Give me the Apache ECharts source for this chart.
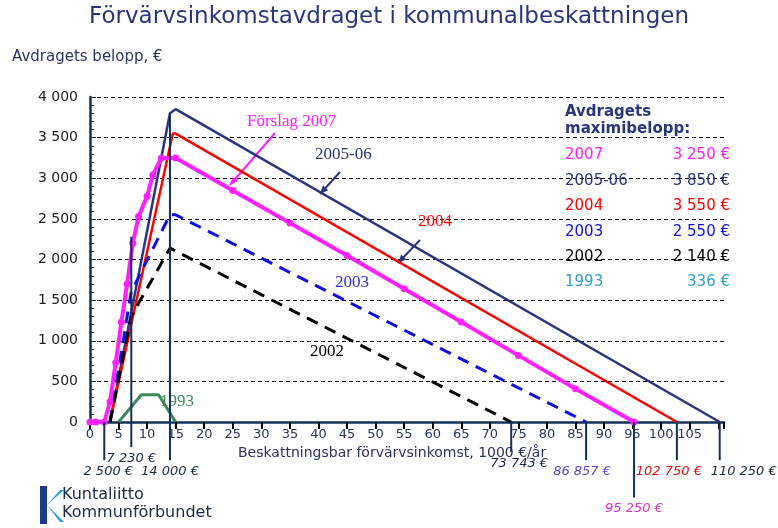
<!DOCTYPE html>
<html><head><meta charset="utf-8">
<script src="https://cdn.jsdelivr.net/npm/echarts@6/dist/echarts.min.js"></script>
<style>html,body{margin:0;background:#fff}#c{width:778px;height:528px}</style></head>
<body><div id="c"></div>
<script>
const s2007 = [[0,0],[1,0],[2.5,0],[3.5,250],[4.5,730],[5.5,1230],[6.5,1700],[7.5,2200],[8.5,2530],[10,2780],[11,3040],[12.5,3250],[15,3250],[25,2850],[35,2450],[45,2050],[55,1640],[65,1230],[75,820],[85,410],[95.25,0]];
const s2005 = [[3.5,0],[14,3800],[15,3850],[110.25,0]];
const s2004 = [[3.5,0],[14.5,3550],[15,3550],[102.75,0]];
const s2003 = [[3.5,0],[7.2,1600],[14,2550],[15,2550],[86.857,0]];
const s2002 = [[3.5,0],[7.2,1300],[14,2140],[73.743,0]];
const s1993 = [[5,0],[9,336],[12,336],[15,0]];
const markers = [
  {x:2.5, top:0, bottom:-470, label:'2 500 €', color:'#1a2a4a'},
  {x:7.23, top:2280, bottom:-310, label:'7 230 €', color:'#1a2a4a'},
  {x:14, top:3800, bottom:-470, label:'14 000 €', color:'#1a2a4a'},
  {x:73.743, top:0, bottom:-370, label:'73 743 €', color:'#1a2a4a'},
  {x:86.857, top:0, bottom:-470, label:'86 857 €', color:'#5a4ad0'},
  {x:95.25, top:0, bottom:-930, label:'95 250 €', color:'#e030d0'},
  {x:102.75, top:0, bottom:-470, label:'102 750 €', color:'#e01010'},
  {x:110.25, top:0, bottom:-470, label:'110 250 €', color:'#1a2a4a'}
];
const labelShift = [4,0,0,8,-4,0,-8,24];
const legendRows = [['2007','3 250 €','#ff20ff'],['2005-06','3 850 €','#2a3580'],['2004','3 550 €','#ff0000'],['2003','2 550 €','#1010e0'],['2002','2 140 €','#000'],['1993','336 €','#30a0d0']];
const fmt = v => String(v).replace(/\B(?=(\d{3})+(?!\d))/g,' ');
const lineS = (data,color,width,type) => ({type:'line',data,symbol:'none',lineStyle:{color,width,type:type||'solid'},z:3,animation:false});
const series = [
  lineS(s2005,'#2a3580',2.5),
  lineS(s2004,'#ff0000',2.5),
  lineS(s2003,'#1010e0',3,[12,8]),
  lineS(s2002,'#000',3,[12,8]),
  lineS(s1993,'#3a8a5a',3),
  {type:'line',data:s2007,symbol:'circle',symbolSize:7,itemStyle:{color:'#ff20ff'},lineStyle:{color:'#ff20ff',width:4},z:4,animation:false}
];
markers.forEach(m=>series.push({type:'line',clip:false,symbol:'none',animation:false,z:5,
  lineStyle:{color:'#13305a',width:2},data:[[m.x,m.top],[m.x,m.bottom]]}));
const g = [];
const ty = 157;
g.push({type:'text',left:565,top:104,style:{text:'Avdragets\nmaximibelopp:',font:'bold 15px DejaVu Sans',fill:'#2a3580',lineHeight:17}});
legendRows.forEach((r,i)=>{
  g.push({type:'text',left:565,top:ty-9+i*25.4,style:{text:r[0],font:'15px DejaVu Sans',fill:r[2]}});
  g.push({type:'text',right:48,top:ty-9+i*25.4,style:{text:r[1],font:'15px DejaVu Sans',fill:r[2],align:'right'}});
});
const ann = (t,x,y,c)=>g.push({type:'text',left:x,top:y,style:{text:t,font:'17px Liberation Serif',fill:c}});
ann('Förslag 2007',247,113,'#ff20ff');ann('2005-06',315,146,'#2a3580');ann('2004',418,213,'#ff0000');
ann('2003',335,274,'#3030d0');ann('2002',310,343,'#000');ann('1993',160,393,'#3a8a5a');
const arrow=(x1,y1,x2,y2,c)=>{g.push({type:'line',shape:{x1,y1,x2,y2},style:{stroke:c,lineWidth:2}});
 const a=Math.atan2(y2-y1,x2-x1),L=9;
 g.push({type:'polygon',shape:{points:[[x2,y2],[x2-L*Math.cos(a-0.4),y2-L*Math.sin(a-0.4)],[x2-L*Math.cos(a+0.4),y2-L*Math.sin(a+0.4)]]},style:{fill:c}});};
arrow(275,133,230,185,'#ff20ff');arrow(340,172,320,194,'#2a3580');arrow(420,240,398,263,'#2a3580');
g.push({type:'text',left:238,top:446,style:{text:'Beskattningsbar förvärvsinkomst, 1000 €/år',font:'14px DejaVu Sans',fill:'#2a3560'}});
g.push({type:'text',left:'center',top:6,style:{text:'Förvärvsinkomstavdraget i kommunalbeskattningen',font:'23px DejaVu Sans',fill:'#2a3580'}});
g.push({type:'text',left:12,top:50,style:{text:'Avdragets belopp, €',font:'15px DejaVu Sans',fill:'#2a3560'}});
g.push({type:'polygon',shape:{points:[[40,486],[47,486],[47,524],[40,524]]},style:{fill:'#1a3a8a'}});
g.push({type:'polygon',shape:{points:[[47,505],[60,490],[64,490]]},style:{fill:'#2aa0e0'}});
g.push({type:'polygon',shape:{points:[[47,505],[60,522],[64,522]]},style:{fill:'#2aa0e0'}});
g.push({type:'text',left:62,top:486,style:{text:'Kuntaliitto\nKommunförbundet',font:'16px DejaVu Sans',fill:'#1a2a4a',lineHeight:18}});
const chart = echarts.init(document.getElementById('c'));
const option = {
  animation:false,
  grid:{left:90,right:54,top:97,bottom:106},
  xAxis:{type:'value',min:0,max:111,interval:5,
    axisLine:{lineStyle:{color:'#13305a',width:2.5}},axisTick:{length:7,lineStyle:{color:'#000',width:2}},
    axisLabel:{color:'#2a3560',fontSize:13,fontFamily:'DejaVu Sans',margin:6,formatter:v=>v>106?'':v},splitLine:{show:false}},
  yAxis:{type:'value',min:0,max:4000,interval:500,
    axisLine:{show:true,lineStyle:{color:'#13305a',width:2.5}},axisTick:{show:true,length:-6,lineStyle:{color:'#13305a'}},
    minorTick:{show:true,splitNumber:5,length:-4,lineStyle:{color:'#13305a'}},
    axisLabel:{color:'#222',fontSize:14,fontFamily:'DejaVu Sans',margin:12,formatter:fmt},
    splitLine:{lineStyle:{color:'#000',type:[4,3],width:1}}},
  series, graphic:g
};
chart.setOption(option);
markers.forEach((m,i)=>{
  const p = chart.convertToPixel({gridIndex:0},[m.x,m.bottom]);
  g.push({type:'text',x:p[0]+labelShift[i],y:p[1]+5,style:{text:m.label,font:'italic 13px DejaVu Sans',fill:m.color,align:'center'}});
});
chart.setOption({graphic:g},{replaceMerge:['graphic']});
</script></body></html>
